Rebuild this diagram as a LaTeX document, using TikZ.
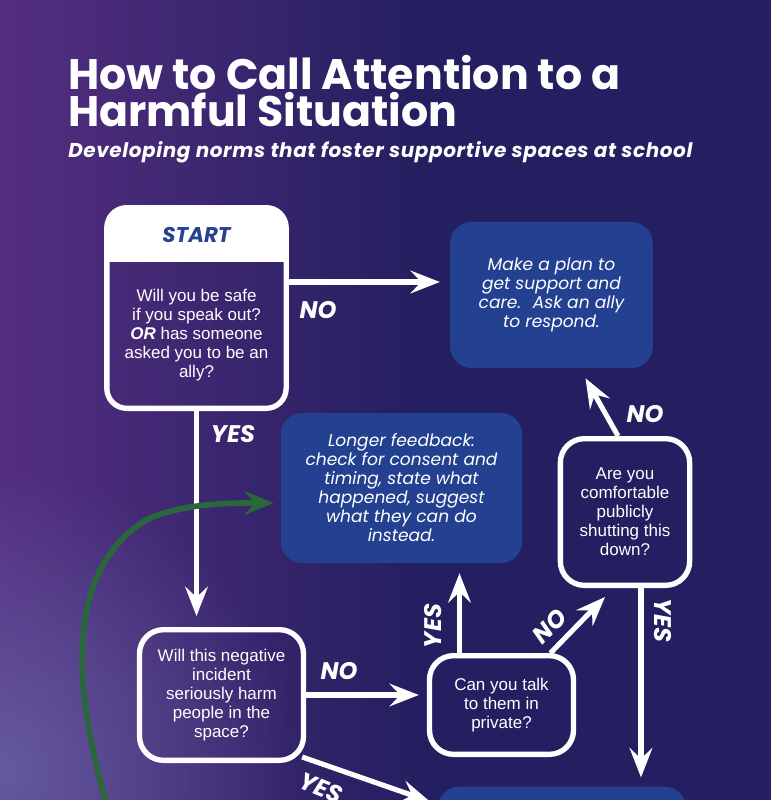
\documentclass[tikz,border=0pt]{standalone}
\usepackage{fontspec}
\setmainfont{Poppins}
\newfontfamily\qfont{Liberation Sans}
\usetikzlibrary{arrows.meta,calc,fadings}

\definecolor{bgpurple}{RGB}{84,46,128}
\definecolor{bgnavy}{RGB}{36,31,96}
\definecolor{bgblob}{RGB}{108,108,172}
\definecolor{actblue}{RGB}{36,65,145}
\definecolor{startblue}{RGB}{40,66,146}
\definecolor{loopgreen}{RGB}{42,104,60}

\tikzfading[name=blobfade, inner color=transparent!30, outer color=transparent!100]

\tikzset{
  question/.style={draw=white, line width=4pt, rounded corners=18pt, align=center, text=white,
    font=\qfont\fontsize{12.75}{14.25}\selectfont, inner sep=0pt},
  action/.style={fill=actblue, rounded corners=16pt, align=center, text=white,
    font=\itshape\fontsize{12.8}{14.25}\selectfont, inner sep=0pt},
  flow/.style={draw=white, line width=3.8pt, -{Stealth[length=22pt,width=17pt,inset=8pt]}},
  answer/.style={text=white, font=\bfseries\itshape\fontsize{18}{18}\selectfont, inner sep=0pt},
}

\begin{document}
\begin{tikzpicture}[x=0.75pt, y=-0.75pt]
% background
\useasboundingbox (0,0) rectangle (771,800);
\fill[bgnavy] (0,0) rectangle (771,800);
\shade[left color=bgpurple, right color=bgnavy] (0,0) rectangle (420,800);
\fill[bgblob, path fading=blobfade] (0,770) circle (300);

% title
\node[anchor=base west, text=white, inner sep=0pt, font=\bfseries\fontsize{32}{32}\selectfont] (title1) at (68,89) {How to Call Attention to a};
\node[anchor=base west, text=white, inner sep=0pt, font=\bfseries\fontsize{32}{32}\selectfont] (title2) at (68,126) {Harmful Situation};
\node[anchor=base west, text=white, inner sep=0pt, font=\bfseries\itshape\fontsize{15}{15}\selectfont\addfontfeatures{LetterSpace=3}] (subtitle) at (68,157) {Developing norms that foster supportive spaces at school};

% start box
\node[question, draw=none, minimum width=130.5pt, minimum height=106pt] (startq) at (196.5,335)
  {Will you be safe\\ if you speak out?\\ \textbf{\textit{OR}} has someone\\ asked you to be an\\ ally?};
\coordinate (starttop) at ($(startq.north east)+(0,-54)$);
\begin{scope}
  \clip[rounded corners=15pt] (startq.south west) rectangle (starttop);
  \fill[white] (startq.north west) rectangle (starttop);
\end{scope}
\draw[white, line width=4pt, rounded corners=15pt] (startq.south west) rectangle (starttop);
\node[text=startblue, font=\bfseries\itshape\fontsize{16}{16}\selectfont] (starthead) at ($(startq.north)+(0,-27)$) {START};

% action boxes
\node[action, minimum width=152pt, minimum height=109.5pt] (plan) at (551.5,295)
  {Make a plan to\\ get support and\\ care.~ Ask an ally\\ to respond.};
\node[action, minimum width=181pt, minimum height=112.5pt] (feedback) at (401.5,488)
  {Longer feedback:\\ check for consent and\\ timing, state what\\ happened, suggest\\ what they can do\\ instead.};
\node[action, minimum width=186pt, minimum height=110pt] (next) at (562,860) {};

% questions
\node[question, minimum width=123pt, minimum height=98pt] (harm) at (221.5,695)
  {Will this negative\\ incident\\ seriously harm\\ people in the\\ space?};
\node[question, minimum width=108pt, minimum height=74pt] (private) at (501.5,705)
  {Can you talk\\ to them in\\ private?};
\node[question, minimum width=97pt, minimum height=110pt] (comfort) at (625,512)
  {Are you\\ comfortable\\ publicly\\ shutting this\\ down?};

% connector ends
\coordinate (pvyes) at ($(private.north)+(-42,0)$);
\coordinate (pvyestip) at (pvyes |- feedback.south);
\coordinate (cfyes) at ($(comfort.south)+(16,0)$);
\coordinate (cfyestip) at (cfyes |- next.north);
\coordinate (downtip) at (startq.south |- harm.north);
\coordinate (notip) at (private.west |- harm.east);

% connectors
\draw[flow] ($(startq.east)+(0,-53)$) -- ($(plan.west)+(-10,-13)$);
\draw[flow] (startq.south) -- ($(downtip)+(0,-11)$);
\draw[flow] (harm.east) -- ($(notip)+(-8,0)$);
\draw[flow] (pvyes) -- ($(pvyestip)+(0,10)$);
\draw[flow] ($(private.north)+(49,0)$) -- ($(comfort.south)+(-20,9)$);
\draw[flow] ($(comfort.north)+(-7,0)$) -- ($(plan.south)+(34,10)$);
\draw[flow] (cfyes) -- ($(cfyestip)+(0,-9)$);
\draw[flow] ($(harm.south east)+(-4,-6)$) -- ($(next.north west)+(-8,15)$);

% loop back
\coordinate (loopstart) at (107,806);
\draw[loopgreen, line width=4.3pt, -{Stealth[length=22pt,width=18pt,inset=8pt]}]
  (loopstart) .. controls (74,690) and (62,570) .. (148,519)
  .. controls (185,503) and (230,503) .. ($(feedback.west)+(-7,15)$);

% answers
\node[answer] (nostart) at (318,310) {NO};
\node[answer] (yesstart) at (233,434) {YES};
\node[answer] (noharm) at (339,671) {NO};
\node[answer, rotate=90] (yesprivate) at (433,626) {YES};
\node[answer, rotate=45] (noprivate) at (550,626) {NO};
\node[answer] (nocomfort) at (645,414) {NO};
\node[answer, rotate=-90] (yescomfort) at (663,620) {YES};
\node[answer, rotate=-22] (yesharm) at (321,788) {YES};
\end{tikzpicture}
\end{document}
